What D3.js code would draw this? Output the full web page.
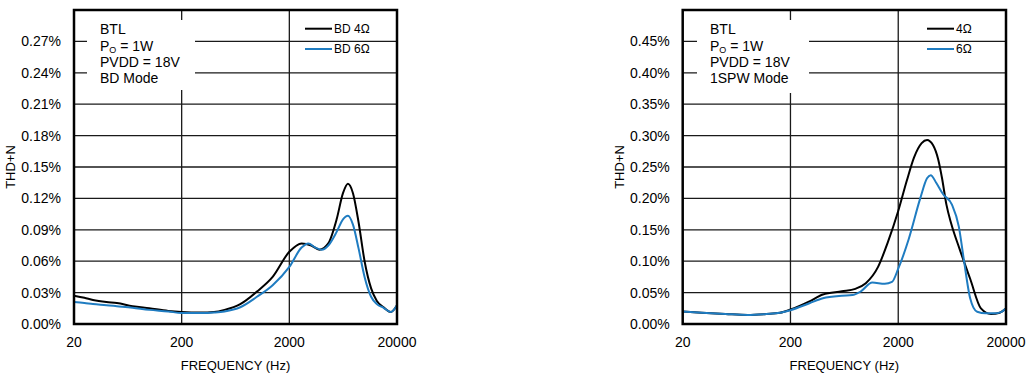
<!DOCTYPE html>
<html>
<head>
<meta charset="utf-8">
<script src="https://cdn.jsdelivr.net/npm/d3@7"></script>
<style>
  body { margin: 0; background: #fff; }
  svg { display: block; font-family: "Liberation Sans", Arial, sans-serif; }
</style>
</head>
<body>
<svg id="chart" width="1036" height="385"></svg>
<script>
// x ticks (Hz), shared by both panels
const freqTicks = [20, 200, 2000, 20000];

// left panel: BD mode
const bdTicks = [0, 0.03, 0.06, 0.09, 0.12, 0.15, 0.18, 0.21, 0.24, 0.27];
const bd4Freq = [20, 25, 30, 40, 50, 70, 100, 150, 200, 300, 400, 500, 700, 1000, 1400, 2000, 2600, 3200, 3800, 4600, 5500, 6300, 7000, 7800, 8800, 10000, 11500, 13000, 15000, 17500, 20000];
const bd4Thd  = [0.027, 0.025, 0.023, 0.021, 0.020, 0.017, 0.015, 0.0125, 0.0115, 0.011, 0.0115, 0.0135, 0.019, 0.031, 0.045, 0.069, 0.077, 0.075, 0.071, 0.077, 0.100, 0.125, 0.134, 0.125, 0.097, 0.060, 0.034, 0.022, 0.016, 0.0115, 0.018];
const bd6Freq = [20, 25, 30, 40, 50, 70, 100, 150, 200, 300, 400, 500, 700, 1000, 1400, 2000, 2600, 3000, 3500, 4000, 4600, 5500, 6300, 7000, 7800, 8800, 10000, 11500, 13000, 15000, 17500, 20000];
const bd6Thd  = [0.021, 0.020, 0.019, 0.018, 0.017, 0.0155, 0.0135, 0.012, 0.0105, 0.0105, 0.011, 0.012, 0.016, 0.026, 0.037, 0.0545, 0.073, 0.077, 0.073, 0.071, 0.075, 0.088, 0.100, 0.1035, 0.095, 0.072, 0.045, 0.026, 0.019, 0.0155, 0.0115, 0.018];

// right panel: 1SPW mode
const spwTicks = [0, 0.05, 0.10, 0.15, 0.20, 0.25, 0.30, 0.35, 0.40, 0.45];
const spw4Freq = [20, 30, 50, 80, 120, 160, 200, 300, 400, 600, 800, 1000, 1300, 1600, 2000, 2400, 2800, 3300, 3700, 4200, 4700, 5100, 5600, 6200, 7400, 9300, 11700, 14500, 17500, 20000];
const spw4Thd  = [0.020, 0.018, 0.016, 0.0145, 0.016, 0.018, 0.023, 0.036, 0.047, 0.052, 0.056, 0.065, 0.091, 0.130, 0.180, 0.228, 0.265, 0.288, 0.293, 0.285, 0.262, 0.232, 0.190, 0.160, 0.120, 0.072, 0.025, 0.016, 0.018, 0.025];
const spw6Freq = [20, 30, 50, 80, 120, 160, 200, 300, 400, 600, 750, 900, 1150, 1500, 1750, 2000, 2500, 3200, 3700, 4000, 4500, 5200, 6300, 7300, 8100, 9300, 10800, 13000, 15500, 18000, 20000];
const spw6Thd  = [0.020, 0.018, 0.016, 0.0145, 0.016, 0.018, 0.022, 0.033, 0.041, 0.045, 0.046, 0.052, 0.066, 0.064, 0.067, 0.088, 0.135, 0.200, 0.232, 0.237, 0.225, 0.207, 0.190, 0.155, 0.104, 0.041, 0.0195, 0.017, 0.017, 0.019, 0.025];

const svg = d3.select("#chart");

function drawPanel(opt) {
  const g = svg.append("g");
  const x = d3.scaleLog().domain([20, 20000]).range([opt.left, opt.right]);
  const y = d3.scaleLinear().domain([0, opt.yMax]).range([opt.bottom, opt.top]);

  // grid
  g.selectAll(".hgrid").data(opt.yTicks.slice(1)).enter().append("line")
    .attr("x1", opt.left).attr("x2", opt.right)
    .attr("y1", d => y(d)).attr("y2", d => y(d))
    .style("stroke", "#1a1a1a").style("stroke-width", 1.3);
  g.selectAll(".vgrid").data(freqTicks.slice(1, -1)).enter().append("line")
    .attr("x1", d => x(d)).attr("x2", d => x(d))
    .attr("y1", opt.top).attr("y2", opt.bottom)
    .style("stroke", "#1a1a1a").style("stroke-width", 1.3);

  // y tick labels
  g.selectAll(".ylab").data(opt.yTicks).enter().append("text")
    .attr("x", opt.left - 13).attr("y", d => y(d)).attr("dy", "0.35em")
    .attr("text-anchor", "end").style("font-size", "14px")
    .text(d => d.toFixed(2) + "%");

  // x tick labels
  g.selectAll(".xlab").data(freqTicks).enter().append("text")
    .attr("x", d => x(d)).attr("y", 347)
    .attr("text-anchor", "middle").style("font-size", "14px")
    .text(d => d);

  g.append("text")
    .attr("x", (opt.left + opt.right) / 2).attr("y", 370)
    .attr("text-anchor", "middle").style("font-size", "13px")
    .text("FREQUENCY (Hz)");
  g.append("text")
    .attr("transform", "translate(" + (opt.left - 59) + "," + ((opt.top + opt.bottom) / 2) + ") rotate(-90)")
    .attr("text-anchor", "middle").style("font-size", "13px")
    .text("THD+N");

  // curves
  const line = d3.line()
    .x(d => x(d[0])).y(d => y(d[1]))
    .curve(d3.curveMonotoneX);
  opt.series.forEach(s => {
    g.append("path")
      .datum(d3.zip(s.freq, s.thd))
      .attr("d", line)
      .style("fill", "none").style("stroke", s.color).style("stroke-width", 2);
  });

  // conditions box
  g.append("rect")
    .attr("x", opt.box[0]).attr("y", opt.box[1])
    .attr("width", opt.box[2]).attr("height", opt.box[3])
    .style("fill", "#fff");
  const tx = opt.box[0] + 13;
  g.append("text").attr("x", tx).attr("y", 34).style("font-size", "14px").text("BTL");
  const po = g.append("text").attr("x", tx).attr("y", 50.5).style("font-size", "14px");
  po.append("tspan").text("P");
  po.append("tspan").attr("dy", 2.5).style("font-size", "9px").text("O");
  po.append("tspan").attr("dy", -2.5).text(" = 1W");
  g.append("text").attr("x", tx).attr("y", 66.8).style("font-size", "14px").text("PVDD = 18V");
  g.append("text").attr("x", tx).attr("y", 83.2).style("font-size", "14px").text(opt.mode);

  // legend
  opt.series.forEach((s, i) => {
    const ly = 28.7 + i * 20.3;
    g.append("line")
      .attr("x1", opt.legendX).attr("x2", opt.legendX + 27)
      .attr("y1", ly).attr("y2", ly)
      .style("stroke", s.color).style("stroke-width", 2);
    g.append("text")
      .attr("x", opt.legendX + 29).attr("y", ly).attr("dy", "0.35em")
      .style("font-size", "12px").text(s.name);
  });

  // frame
  g.append("rect")
    .attr("x", opt.left).attr("y", opt.top)
    .attr("width", opt.right - opt.left).attr("height", opt.bottom - opt.top)
    .style("fill", "none").style("stroke", "#000").style("stroke-width", 2.5);
}

const black = "#000000";
const blue = "#1f7cc1";

drawPanel({
  left: 74, right: 397, top: 10, bottom: 324, yMax: 0.30, yTicks: bdTicks,
  box: [87, 20, 108, 70], mode: "BD Mode", legendX: 305,
  series: [
    { name: "BD 4\u03A9", freq: bd4Freq, thd: bd4Thd, color: black },
    { name: "BD 6\u03A9", freq: bd6Freq, thd: bd6Thd, color: blue }
  ]
});

drawPanel({
  left: 682.7, right: 1006, top: 10, bottom: 324, yMax: 0.50, yTicks: spwTicks,
  box: [697, 20, 112, 73], mode: "1SPW Mode", legendX: 927,
  series: [
    { name: "4\u03A9", freq: spw4Freq, thd: spw4Thd, color: black },
    { name: "6\u03A9", freq: spw6Freq, thd: spw6Thd, color: blue }
  ]
});
</script>
</body>
</html>
